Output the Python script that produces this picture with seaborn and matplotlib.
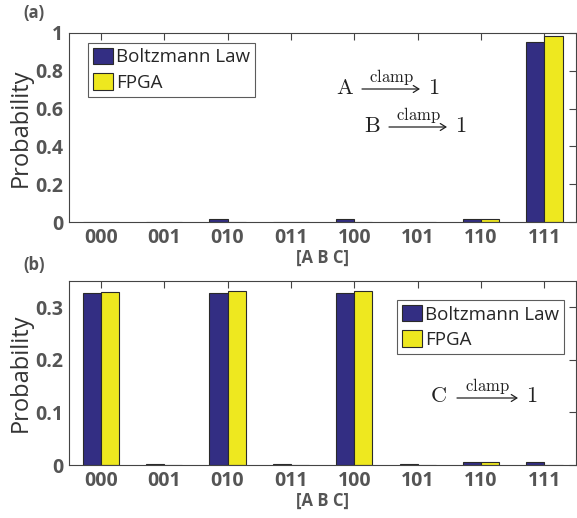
import numpy as np
import pandas as pd
import matplotlib
matplotlib.use("Agg")
import matplotlib.pyplot as plt
import seaborn as sns

states = ["000", "001", "010", "011", "100", "101", "110", "111"]
series = ["Boltzmann Law", "FPGA"]
boltz_a = [0.002, 0.002, 0.015, 0.002, 0.015, 0.002, 0.015, 0.952]
fpga_a = [0.001, 0.001, 0.001, 0.001, 0.001, 0.001, 0.015, 0.985]
boltz_b = [0.328, 0.001, 0.328, 0.001, 0.328, 0.001, 0.006, 0.006]
fpga_b = [0.330, 0.0005, 0.331, 0.0005, 0.331, 0.0005, 0.006, 0.0005]
yticks_a = [0, 0.2, 0.4, 0.6, 0.8, 1]
ytick_labels_a = ["0", "0.2", "0.4", "0.6", "0.8", "1"]
yticks_b = [0, 0.1, 0.2, 0.3]
ytick_labels_b = ["0", "0.1", "0.2", "0.3"]

sns.set_style("white")
plt.rcParams["font.family"] = ["Open Sans", "DejaVu Sans"]
plt.rcParams["mathtext.fontset"] = "cm"

palette = {"Boltzmann Law": "#332E83", "FPGA": "#EEE81F"}
tick_color = "#555555"
W, H = 577, 518

fig = plt.figure(figsize=(5.77, 5.18), dpi=100)
ax1 = fig.add_axes([0.1196, 0.5714, 0.879, 0.3649])
ax2 = fig.add_axes([0.1196, 0.1023, 0.879, 0.3552])


def make_df(b, f):
    return pd.DataFrame({
        "state": states * 2,
        "series": [series[0]] * len(states) + [series[1]] * len(states),
        "p": list(b) + list(f),
    })


for ax, b, f, yt, ytl, ylim in [
    (ax1, boltz_a, fpga_a, yticks_a, ytick_labels_a, (0, 1)),
    (ax2, boltz_b, fpga_b, yticks_b, ytick_labels_b, (0, 0.35)),
]:
    df = make_df(b, f)
    sns.barplot(data=df, x="state", y="p", hue="series", order=states,
                hue_order=series, palette=palette, width=0.57,
                edgecolor="#2a2a2a", linewidth=0.8, saturation=1, ax=ax)
    ax.set_xlim(-0.5, 7.5)
    ax.set_ylim(*ylim)
    ax.set_yticks(yt)
    ax.set_yticklabels(ytl)
    ax.set_xlabel("[A B C]", fontsize=12, fontweight="bold", color=tick_color, labelpad=1)
    ax.set_ylabel("Probability", fontsize=17, color="#333333", labelpad=2)
    ax.tick_params(axis="both", direction="in", top=True, right=True,
                   length=5, width=0.8, color="#444444", labelsize=14,
                   labelcolor=tick_color, pad=4)
    for lab in ax.get_xticklabels() + ax.get_yticklabels():
        lab.set_fontweight("bold")
    for s in ax.spines.values():
        s.set_color("#444444")
        s.set_linewidth(0.8)

leg_kw = dict(fontsize=13.5, frameon=True, fancybox=False, edgecolor="#333333",
              handlelength=1.1, handleheight=1.0, handletextpad=0.15,
              borderpad=0.25, labelspacing=0.35, borderaxespad=0, loc="upper left")
leg1 = ax1.legend(bbox_to_anchor=(19 / 507, 1 - 10 / 189), **leg_kw)
leg2 = ax2.legend(bbox_to_anchor=((397 - 69) / 507, 1 - 19 / 184), **leg_kw)
for leg in (leg1, leg2):
    leg.get_frame().set_linewidth(0.8)


def fx(x):
    return x / W


def fy(y):
    return 1 - y / H


def clamp_label(letter, xl, xa0, xa1, x1, y):
    fig.text(fx(xl), fy(y), r"$\mathrm{" + letter + "}$", fontsize=16,
             color="#222222", ha="center", va="center")
    fig.add_artist(matplotlib.patches.FancyArrowPatch(
        (fx(xa0), fy(y + 1)), (fx(xa1), fy(y + 1)), transform=fig.transFigure,
        arrowstyle="->,head_length=4,head_width=2.5", color="#222222",
        linewidth=0.9, mutation_scale=1, shrinkA=0, shrinkB=0))
    fig.text(fx((xa0 + xa1) / 2), fy(y - 11), r"$\mathrm{clamp}$", fontsize=12,
             color="#222222", ha="center", va="center")
    fig.text(fx(x1), fy(y), r"$1$", fontsize=16, color="#222222",
             ha="center", va="center")


clamp_label("A", 345, 362, 420, 434, 88)
clamp_label("B", 372, 389, 447, 461, 126)
clamp_label("C", 438, 457, 518, 532, 397)

fig.text(fx(23), fy(13), "(a)", fontsize=12, fontweight="bold", color=tick_color, va="center")
fig.text(fx(23), fy(265), "(b)", fontsize=12, fontweight="bold", color=tick_color, va="center")

fig.savefig("out.png", dpi=100)
